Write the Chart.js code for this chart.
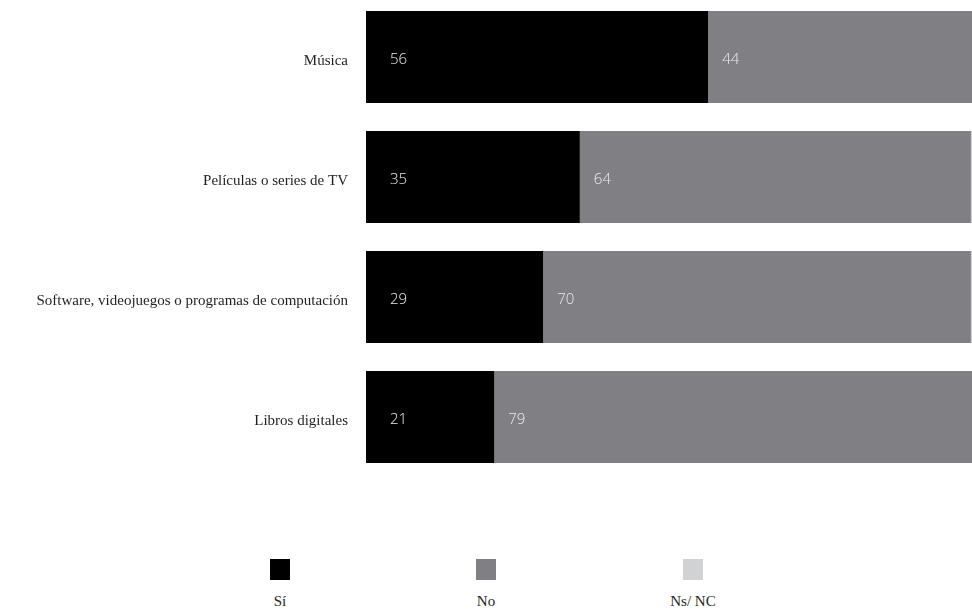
<!DOCTYPE html>
<html>
<head>
<meta charset="utf-8">
<script src="https://cdn.jsdelivr.net/npm/chart.js@4"></script>
<style>
  html, body { margin: 0; padding: 0; background: #fff; overflow: hidden; width: 972px; height: 611px; }
  #wrap { position: absolute; left: 0; top: -30px; width: 977px; height: 534px; }
  .leg { position: absolute; top: 559px; width: 80px; text-align: center; font-family: "Liberation Serif", serif; font-size: 15px; color: #231f20; }
  .leg span { display: block; width: 20px; height: 21px; margin: 0 auto 13px auto; }
</style>
</head>
<body>
<div id="wrap"><canvas id="barChart" width="977" height="534"></canvas></div>
<div class="leg" style="left:240px"><span style="background:#000000"></span>Sí</div>
<div class="leg" style="left:446px"><span style="background:#808084"></span>No</div>
<div class="leg" style="left:653px"><span style="background:#d1d2d4"></span>Ns/ NC</div>
<script>
// --- data ---
const categories = ['Música', 'Películas o series de TV', 'Software, videojuegos o programas de computación', 'Libros digitales'];
const siValues = [56, 35, 29, 21];
const noValues = [44, 64, 70, 79];
const nsncValues = [0, 1, 1, 0];

const seriesColors = ['#000000', '#808084', '#d1d2d4'];

// labels inside bars, drawn at the bar start
const insideLabels = {
  id: 'insideLabels',
  afterDatasetsDraw(chart) {
    const c = chart.ctx;
    c.save();
    c.font = '300 15px "Open Sans", sans-serif';
    c.fillStyle = '#ececec';
    c.textAlign = 'left';
    c.textBaseline = 'middle';
    [0, 1].forEach(di => {
      const meta = chart.getDatasetMeta(di);
      meta.data.forEach((bar, i) => {
        const v = chart.data.datasets[di].data[i];
        if (!v) return;
        const off = di === 0 ? 24 : 14;
        c.fillText(String(v), bar.base + off, bar.y + 3);
      });
    });
    c.restore();
  }
};

const ctx = document.getElementById('barChart').getContext('2d');
new Chart(ctx, {
  type: 'bar',
  data: {
    labels: categories,
    datasets: [
      { label: 'Sí', data: siValues, backgroundColor: seriesColors[0] },
      { label: 'No', data: noValues, backgroundColor: seriesColors[1] },
      { label: 'Ns/ NC', data: nsncValues, backgroundColor: seriesColors[2] }
    ]
  },
  options: {
    indexAxis: 'y',
    responsive: false,
    animation: false,
    layout: { padding: 0 },
    datasets: { bar: { categoryPercentage: 1, barPercentage: 0.767, borderWidth: 0 } },
    scales: {
      x: { stacked: true, min: 0, max: 100, display: false },
      y: {
        stacked: true,
        grid: { display: false, drawTicks: false },
        border: { display: false },
        ticks: {
          padding: 18,
          labelOffset: 4,
          color: '#231f20',
          font: { family: '"Liberation Serif", serif', size: 15 }
        },
        afterFit(scale) { scale.width = 366; }
      }
    },
    plugins: { legend: { display: false }, tooltip: { enabled: false } }
  },
  plugins: [insideLabels]
});
</script>
</body>
</html>
